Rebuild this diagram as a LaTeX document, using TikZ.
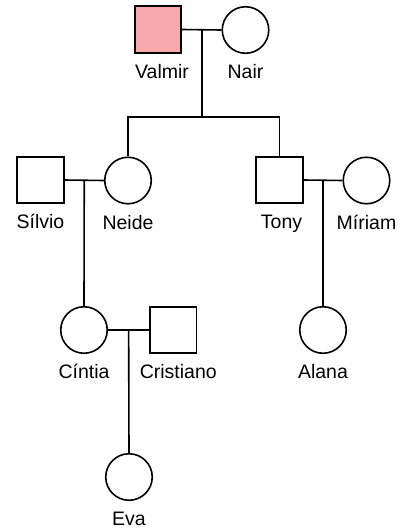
\documentclass[tikz,border=0pt]{standalone}
\usepackage{fontspec}
\setmainfont{Liberation Sans}
\usepackage{tikz}
\usetikzlibrary{positioning}
\definecolor{affected}{HTML}{F8A9AB}
\newcommand{\drawMale}[5][0]{% label shift, name, x, y, label
  \node[male] (#2) at (#3, #4) {};
  \node[lbl, below=8pt of #2, xshift=#1pt] (#2-lbl) {#5};
}
\newcommand{\drawAffectedMale}[5][0]{% label shift, name, x, y, label
  \node[male,fill=affected] (#2) at (#3, #4) {};
  \node[lbl, below=8pt of #2, xshift=#1pt] (#2-lbl) {#5};
}
\newcommand{\drawFemale}[5][0]{% label shift, name, x, y, label
  \node[female] (#2) at (#3, #4) {};
  \node[lbl, below=8pt of #2, xshift=#1pt] (#2-lbl) {#5};
}

\begin{document}
\begin{tikzpicture}[x=1pt,y=-1pt,line width=1.6pt,
  male/.style={draw,rectangle,minimum size=46.5pt,inner sep=0pt},
  female/.style={draw,circle,minimum size=46.5pt,inner sep=0pt},
  lbl/.style={inner sep=2pt,text height=14pt,text depth=4pt,
    font=\fontsize{19.5pt}{22pt}\selectfont}]
\useasboundingbox (0,0) rectangle (403,528);

% First generation
\drawAffectedMale[4]{valmir}{158}{29.5}{Valmir}
\drawFemale{nair}{245.5}{30}{Nair}

% Second generation
\drawMale{silvio}{40.5}{180}{Sílvio}
\drawFemale{neide}{128}{180.5}{Neide}
\drawMale[2]{tony}{279.5}{180}{Tony}
\drawFemale{miriam}{366.5}{180.5}{Míriam}

% Third generation
\drawFemale{cintia}{84}{330}{Cíntia}
\drawMale[5]{cristiano}{173.3}{330}{Cristiano}
\drawFemale{alana}{323}{330}{Alana}

% Fourth generation
\drawFemale{eva}{129}{477}{Eva}

% Marriages
\draw (valmir.east) -- (nair.west) coordinate[midway] (vn);
\draw (silvio.east) -- (neide.west) coordinate[midway] (sn);
\draw (tony.east) -- (miriam.west) coordinate[midway] (tm);
\draw (cintia.east) -- (cristiano.west) coordinate[midway] (cc);

% Descent
\coordinate (sib) at (vn |- 0,117);
\draw (vn) -- (sib);
\draw (neide.north) -- (neide.north |- sib) -- (tony.north |- sib) -- (tony.north);
\draw (sn) -- (cintia.north);
\draw (tm) -- (alana.north);
\draw (cc) -- (eva.north);

\end{tikzpicture}
\end{document}
